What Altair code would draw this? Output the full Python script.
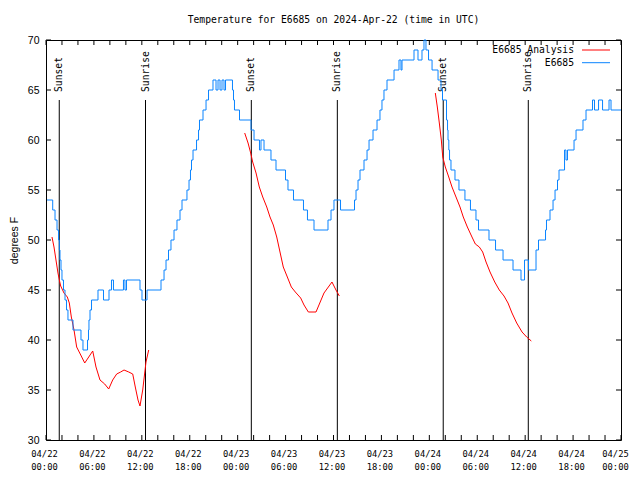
import json
import altair as alt
import pandas as pd

# ---------------- data (hours since 2024-04-22 00:00 UTC) ----------------
obs_hours = [0.13, 0.84, 1.13, 1.38, 1.57, 1.67, 1.75, 1.88, 2.00, 2.19, 2.38, 2.57, 2.75, 3.38, 4.38, 4.63,
             5.20, 5.32, 5.38, 5.51, 5.70, 6.51, 7.20, 7.89, 8.20, 8.45, 9.70, 9.89, 10.08, 11.77, 12.02, 12.65,
             14.40, 14.78, 15.03, 15.34, 15.65, 16.03, 16.40, 16.78, 17.03, 17.65, 17.91, 18.09, 18.22, 18.41,
             18.85, 19.10, 19.22, 19.66, 20.04, 20.35, 20.91, 21.29, 21.54, 21.79, 22.04, 22.29, 22.48, 23.35,
             23.48, 23.60, 24.23, 25.67, 26.05, 26.73, 26.92, 27.30, 28.17, 28.80, 29.99, 30.30, 30.99, 32.24,
             32.74, 33.56, 35.31, 35.69, 36.06, 36.88, 38.63, 38.82, 39.07, 39.32, 39.82, 40.20, 40.45, 40.95,
             41.45, 41.82, 42.07, 42.32, 42.70, 43.58, 44.20, 44.45, 44.58, 46.08, 46.58, 47.08, 47.33, 47.58,
             47.90, 48.34, 49.09, 49.46, 49.65, 50.15, 50.28, 50.34, 50.44, 50.53, 50.71, 51.21, 51.71, 52.46,
             53.15, 53.84, 54.16, 55.47, 56.29, 57.23, 58.48, 59.48, 59.92, 60.42, 61.36, 61.67, 62.55, 62.67,
             63.11, 63.49, 63.74, 64.05, 64.24, 64.93, 65.11, 65.30, 66.12, 66.37, 67.24, 67.62, 68.43, 68.68,
             69.19, 69.69, 70.50, 70.75, 72.0]
obs_temps = [54, 53, 52, 51, 50, 49, 48, 47, 46, 45, 44, 43, 42, 41, 40, 39,
             40, 41, 42, 43, 44, 45, 44, 45, 46, 45, 46, 45, 46, 45, 44, 45,
             46, 47, 48, 49, 50, 51, 52, 53, 54, 55, 56, 57, 58, 59,
             60, 61, 62, 63, 64, 65, 66, 65, 66, 65, 66, 65, 66, 65,
             64, 63, 62, 61, 60, 59, 60, 59, 58, 57, 56, 55, 54, 53,
             52, 51, 52, 53, 54, 53, 54, 55, 56, 57, 58, 59, 60, 61,
             62, 63, 64, 65, 66, 67, 68, 67, 68, 69, 68, 69, 70, 69,
             68, 67, 66, 65, 64, 62, 61, 60, 59, 58, 57, 56, 55, 54,
             53, 52, 51, 50, 49, 48, 47, 46, 48, 47, 49, 50, 51, 52,
             53, 54, 55, 56, 57, 59, 58, 59, 60, 61, 62, 63, 64, 63,
             64, 63, 64, 63, 63]

ana1_hours = [0.75, 1.00, 1.25, 1.50, 1.67, 1.84, 2.25, 2.67, 2.92, 3.17, 3.51, 3.84, 4.35, 4.85, 5.35, 5.85,
              6.26, 6.76, 7.35, 7.85, 8.35, 8.85, 9.35, 9.77, 10.36, 10.86, 11.18, 11.52, 11.77, 12.11, 12.36,
              12.52, 12.86]
ana1_temps = [50.3, 49.3, 48.0, 46.7, 46.0, 45.4, 44.7, 44.3, 43.7, 42.3, 41.0, 39.3, 38.5, 37.7, 38.3, 38.9,
              37.3, 36.0, 35.6, 35.1, 36.0, 36.6, 36.8, 37.0, 36.8, 36.6, 35.3, 34.0, 33.4, 35.0, 36.7,
              37.8, 39.0]
ana2_hours = [24.88, 25.30, 25.63, 25.88, 26.30, 26.71, 27.14, 27.64, 28.05, 28.46, 28.89, 29.30, 29.71, 30.22,
              30.72, 31.22, 31.89, 32.31, 32.85, 33.81, 34.81, 35.81, 36.31, 36.73]
ana2_temps = [60.7, 59.7, 58.7, 57.8, 56.7, 55.3, 54.3, 53.3, 52.3, 51.5, 50.3, 48.8, 47.3, 46.3,
              45.3, 44.8, 44.2, 43.5, 42.8, 42.8, 44.7, 45.8, 45.0, 44.4]
ana3_hours = [48.75, 49.00, 49.25, 49.50, 49.68, 50.00, 50.43, 50.84, 51.34, 51.84, 52.25, 52.76, 53.34, 53.76,
              54.26, 54.68, 55.10, 55.60, 56.19, 56.76, 57.35, 57.85, 58.35, 58.94, 59.61, 60.19, 60.77]
ana3_temps = [64.7, 63.3, 61.7, 60.0, 58.3, 57.3, 56.3, 55.3, 54.3, 53.3, 52.3, 51.3, 50.3, 49.6,
              49.3, 48.8, 47.8, 46.8, 45.8, 45.0, 44.4, 43.7, 42.7, 41.7, 40.8, 40.3, 39.9]

sun_hours = [1.66, 12.46, 25.71, 36.48, 49.74, 60.39]
sun_labels = ["Sunset", "Sunrise", "Sunset", "Sunrise", "Sunset", "Sunrise"]

series_names = ["E6685 Analysis", "E6685"]
series_colors = ["#ff0000", "#0a84ff"]

x_tick_hours = list(range(0, 73, 6))
x_tick_labels = [["04/22", "00:00"], ["04/22", "06:00"], ["04/22", "12:00"], ["04/22", "18:00"],
                 ["04/23", "00:00"], ["04/23", "06:00"], ["04/23", "12:00"], ["04/23", "18:00"],
                 ["04/24", "00:00"], ["04/24", "06:00"], ["04/24", "12:00"], ["04/24", "18:00"],
                 ["04/25", "00:00"]]
x_minor_hours = list(range(0, 73, 2))
y_tick_values = [30, 35, 40, 45, 50, 55, 60, 65, 70]

title_text = "Temperature for E6685 on 2024-Apr-22 (time in UTC)"
y_title = "degrees F"

# ---------------- tables ----------------
obs_df = pd.DataFrame({"h": obs_hours, "temp": obs_temps})
ana_df = pd.concat([
    pd.DataFrame({"h": ana1_hours, "temp": ana1_temps, "seg": 1}),
    pd.DataFrame({"h": ana2_hours, "temp": ana2_temps, "seg": 2}),
    pd.DataFrame({"h": ana3_hours, "temp": ana3_temps, "seg": 3}),
])
sun_df = pd.DataFrame({"h": sun_hours, "label": sun_labels})
xt_df = pd.DataFrame({"h": x_minor_hours})
yt_df = pd.DataFrame({"temp": y_tick_values})
one = pd.DataFrame({"a": [0]})

W, H = 575, 400
MONO = "DejaVu Sans Mono"
SANS = "Liberation Sans"

xscale = alt.Scale(domain=[0, 72], nice=False, zero=False)
yscale = alt.Scale(domain=[30, 70], nice=False, zero=False)
label_expr = json.dumps(x_tick_labels) + "[round(datum.value / 6)]"
xaxis = alt.Axis(values=x_tick_hours, labelExpr=label_expr, ticks=False, domain=False, grid=False,
                 labelFont=MONO, labelFontSize=8.8, labelColor="black", labelAngle=0,
                 labelFlush=False, labelOverlap=False, labelPadding=9, labelLineHeight=13,
                 labelOffset={"condition": {"test": "datum.value >= 72", "value": -6}, "value": -2},
                 labelBound=False, title=None)
yaxis = alt.Axis(values=y_tick_values, ticks=False, domain=False, grid=False,
                 labelFont=SANS, labelFontSize=10.5, labelColor="black", labelPadding=7,
                 title=y_title, titleFont=SANS, titleFontSize=10.5, titleFontWeight="normal",
                 titleColor="black", titlePadding=8)

X = alt.X("h:Q", scale=xscale, axis=xaxis)
Y = alt.Y("temp:Q", scale=yscale, axis=yaxis)

top_ticks = alt.Chart(xt_df).mark_rule(color="black", strokeWidth=1).encode(
    x=X, y=alt.value(0), y2=alt.value(5))
bot_ticks = alt.Chart(xt_df).mark_rule(color="black", strokeWidth=1).encode(
    x=X, y=alt.value(H - 5), y2=alt.value(H))
left_ticks = alt.Chart(yt_df).mark_rule(color="black", strokeWidth=1).encode(
    y=Y, x=alt.value(0), x2=alt.value(5))
right_ticks = alt.Chart(yt_df).mark_rule(color="black", strokeWidth=1).encode(
    y=Y, x=alt.value(W - 5), x2=alt.value(W))

sun_lines = alt.Chart(sun_df).mark_rule(color="black", strokeWidth=1).encode(
    x=X, y=alt.value(60), y2=alt.value(H))
sun_text = alt.Chart(sun_df).mark_text(angle=270, align="left", baseline="middle",
                                       font=MONO, fontSize=9.7, color="black").encode(
    x=X, y=alt.value(52), text="label:N")

ana_line = alt.Chart(ana_df).mark_line(color=series_colors[0], strokeWidth=1).encode(
    x=X, y=Y, detail="seg:N")
obs_line = alt.Chart(obs_df).mark_line(color=series_colors[1], strokeWidth=1,
                                       interpolate="step-after").encode(x=X, y=Y)

legend_layers = []
for i, (name, col) in enumerate(zip(series_names, series_colors)):
    yy = 10 + 12.7 * i
    legend_layers.append(alt.Chart(one).mark_text(align="right", baseline="middle", font=MONO,
                                                  fontSize=9.7, color="black", text=name).encode(
        x=alt.value(528), y=alt.value(yy)))
    legend_layers.append(alt.Chart(one).mark_rule(color=col, strokeWidth=1).encode(
        x=alt.value(536), x2=alt.value(564), y=alt.value(yy)))

chart = alt.layer(top_ticks, bot_ticks, left_ticks, right_ticks, sun_lines, sun_text,
                  ana_line, obs_line, *legend_layers).properties(
    width=W, height=H,
    autosize="none",
    padding={"left": 38, "top": 32, "right": 10, "bottom": 30},
    title=alt.TitleParams(title_text, font=MONO, fontSize=9.7, fontWeight="normal",
                          anchor="middle", frame="group", offset=10, color="black"),
    background="white",
).configure_view(stroke="black", strokeWidth=1)

chart.save("out.html", embed_options={"renderer": "svg", "actions": False})
